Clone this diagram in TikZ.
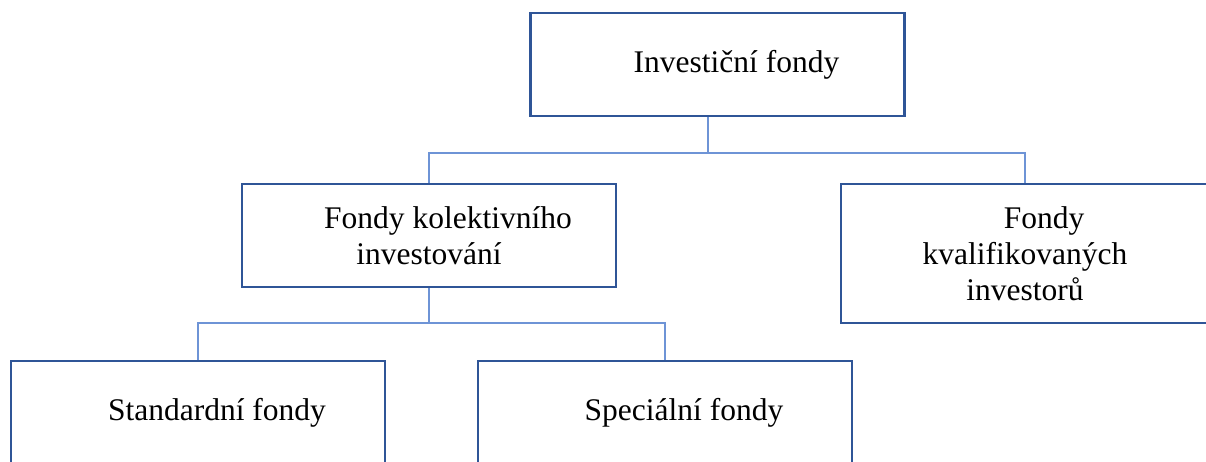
\documentclass[tikz,border=0pt]{standalone}
\usepackage{fontspec}
\setmainfont{Liberation Serif}
\usepackage{xcolor}
\usepackage{tikz}
\usetikzlibrary{positioning,calc}
\definecolor{BoxBlue}{HTML}{2F5597}
\definecolor{LinkBlue}{HTML}{6E94D6}
\newcommand{\lead}{\hspace*{38pt}}

\begin{document}
\begin{tikzpicture}[x=1pt,y=-1pt,
    box/.style={draw=BoxBlue,line width=2.7pt,minimum width=374pt,minimum height=103pt,
      inner sep=0pt,align=center,font=\fontsize{31.5}{36}\selectfont},
    link/.style={LinkBlue,line width=1.8pt}]
  \clip (0,0) rectangle (1206,461);
  % boxes
  \node[box] (invf) at (717.5,64.5) {\lead Investiční fondy};
  \node[box] (kol) at (429,235.5) {\lead Fondy kolektivního\\investování};
  \node[box,minimum width=368pt,minimum height=139pt] (kval) at (1025,253.5) {\lead Fondy\\kvalifikovaných\\investorů};
  \node[box] (std) at (198,412.5) {\lead Standardní fondy};
  \node[box] (spec) at (665,412.5) {\lead Speciální fondy};
  % connectors
  \draw[link] ([xshift=-9.5pt]invf.south) -- ++(0,36) coordinate (j1);
  \draw[link] (kol.north) |- (j1) -| (kval.north);
  \draw[link] (kol.south) -- ++(0,35) coordinate (j2);
  \draw[link] (std.north) |- (j2) -| (spec.north);
\end{tikzpicture}
\end{document}
